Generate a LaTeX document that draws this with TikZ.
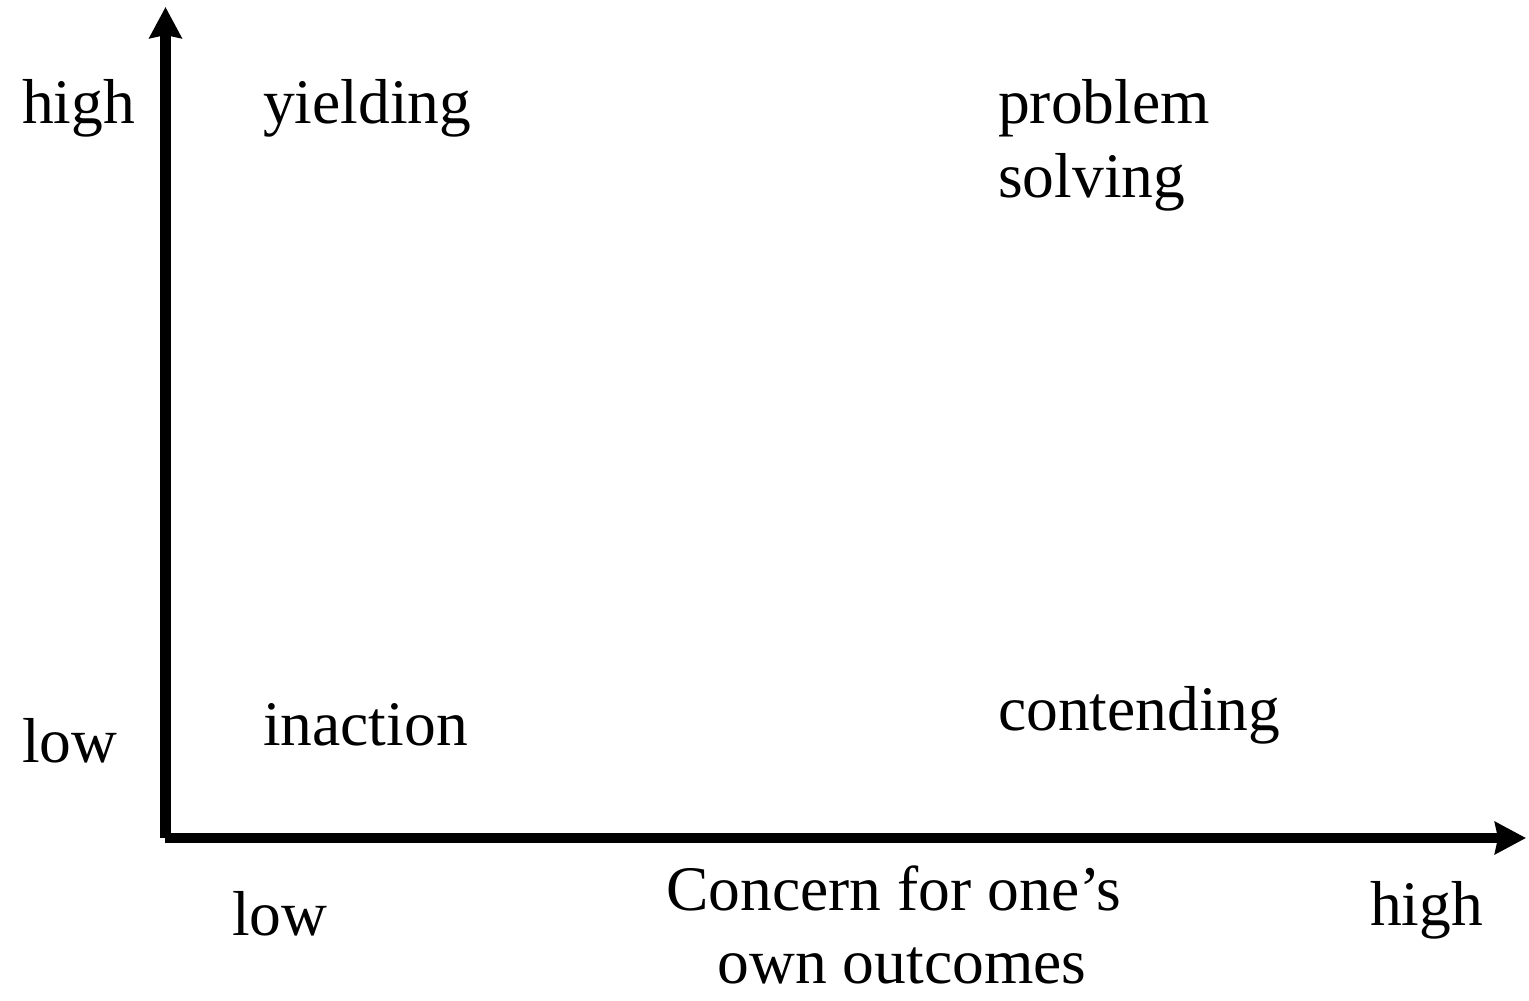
\documentclass[tikz,border=0pt]{standalone}
\usepackage{fontspec}
\setmainfont{Liberation Serif}
\usetikzlibrary{arrows.meta}
\begin{document}
\begin{tikzpicture}[x=1pt,y=-1pt,
  axis/.style={line width=10.5pt,-{Stealth[length=31pt,width=32pt,inset=3pt]}},
  lbl/.style={anchor=base west,inner sep=0pt,font=\fontsize{63.5}{74}\selectfont},
  ctr/.style={anchor=base,inner sep=0pt,align=center,font=\fontsize{63.5}{73}\selectfont}]
  \useasboundingbox (0,0) rectangle (1529,1001);
  % axes
  \coordinate (oy) at (165.5,838);
  \coordinate (ox) at (165,838);
  \coordinate (ytip) at (165.5,7);
  \coordinate (xtip) at (1526,838);
  \draw[axis] (oy) -- (ytip);
  \draw[axis] (ox) -- (xtip);
  % vertical axis ticks
  \node[lbl] (yhigh) at (22,123) {high};
  \node[lbl] (ylow) at (22,762) {low};
  % quadrants (multi-line nodes sit on their last baseline)
  \node[lbl] (yield) at (263,123) {yielding};
  \node[lbl] (inact) at (263,745) {inaction};
  \node[lbl,align=left] (solve) at (998,197) {problem\\solving};
  \node[lbl] (contend) at (998,730) {contending};
  % horizontal axis ticks and title
  \node[lbl] (xlow) at (232,935) {low};
  \node[lbl] (xhigh) at (1370,925) {high};
  \node[ctr] (xtitle) at (902,983) {Concern for one’s\hspace*{0.25em}\\own outcomes};
\end{tikzpicture}
\end{document}
